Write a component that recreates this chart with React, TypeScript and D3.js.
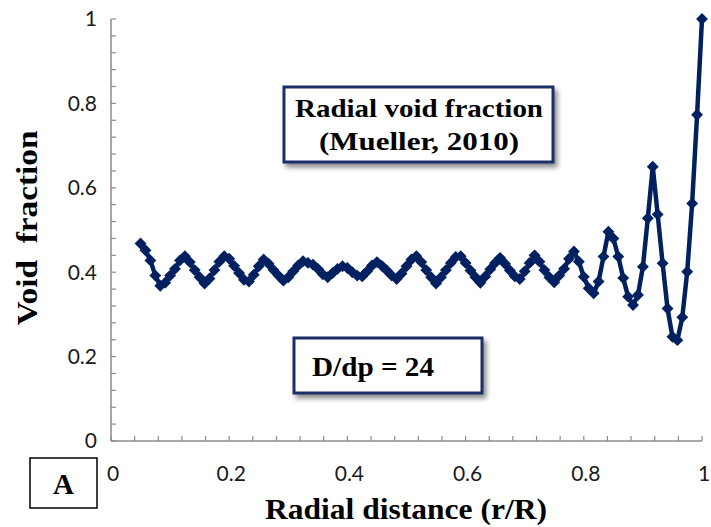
import React from "react";
import * as d3 from "d3";

const rIndex: number[] = d3.range(6, 121);
const voidFraction: number[] = [
  0.468, 0.452, 0.428, 0.392, 0.368, 0.375, 0.392, 0.408, 0.428, 0.438,
  0.424, 0.405, 0.388, 0.373, 0.385, 0.405, 0.425, 0.438, 0.432, 0.415,
  0.398, 0.382, 0.378, 0.394, 0.414, 0.430, 0.420, 0.405, 0.392, 0.380,
  0.388, 0.402, 0.416, 0.426, 0.422, 0.418, 0.408, 0.395, 0.388, 0.398,
  0.408, 0.414, 0.410, 0.400, 0.392, 0.390, 0.402, 0.416, 0.424, 0.415,
  0.404, 0.392, 0.384, 0.397, 0.414, 0.430, 0.438, 0.424, 0.405, 0.388,
  0.373, 0.388, 0.405, 0.422, 0.436, 0.438, 0.422, 0.404, 0.388, 0.375,
  0.390, 0.407, 0.422, 0.434, 0.420, 0.404, 0.390, 0.384, 0.402, 0.422,
  0.440, 0.425, 0.405, 0.388, 0.376, 0.392, 0.408, 0.432, 0.449, 0.425,
  0.389, 0.362, 0.350, 0.378, 0.437, 0.496, 0.480, 0.437, 0.386, 0.342,
  0.322, 0.346, 0.413, 0.528, 0.650, 0.537, 0.421, 0.314, 0.247, 0.239,
  0.293, 0.401, 0.563, 0.773, 1.0,
];
const radialDistance: number[] = rIndex.map((i) => i / 120);
const tickValues: number[] = [0, 0.2, 0.4, 0.6, 0.8, 1];
const minorTicks: number[] = d3.range(0, 26).map((i) => i * 0.04);

const NAVY = "#002060";
const AXIS = "#8c8c8c";

export default function App() {
  const x = d3.scaleLinear().domain([0, 1]).range([111, 702]);
  const y = d3.scaleLinear().domain([0, 1]).range([441, 19]);
  const data = radialDistance.map((r, i) => ({ r, v: voidFraction[i] }));
  const line = d3
    .line<{ r: number; v: number }>()
    .x((d) => x(d.r))
    .y((d) => y(d.v));
  const diamond = d3.symbol().type(d3.symbolDiamond2).size(90)() as string;
  const tickFont = "Lato, 'Open Sans', sans-serif";
  const serif = "'Liberation Serif', 'Times New Roman', serif";

  return (
    <svg
      width={711}
      height={527}
      style={{ position: "absolute", left: 0, top: 0, background: "#fff" }}
    >
      <defs>
        <filter id="shadow" x="-20%" y="-30%" width="140%" height="170%">
          <feDropShadow dx="3" dy="4" stdDeviation="2.5" floodColor="#000" floodOpacity="0.45" />
        </filter>
      </defs>
      <rect width={711} height={527} fill="#fff" />

      {/* axes */}
      <line x1={x(0)} x2={x(0)} y1={y(0)} y2={y(1)} stroke={AXIS} strokeWidth={1.5} />
      <line x1={x(0)} x2={x(1)} y1={y(0)} y2={y(0)} stroke={AXIS} strokeWidth={1.5} />
      {minorTicks.map((t, i) => (
        <line key={"yt" + i} x1={x(0)} x2={x(0) + 5} y1={y(t)} y2={y(t)} stroke={AXIS} strokeWidth={1.2} />
      ))}
      {minorTicks.map((t, i) => (
        <line key={"xt" + i} x1={x(t)} x2={x(t)} y1={y(0)} y2={y(0) - 5} stroke={AXIS} strokeWidth={1.2} />
      ))}
      {tickValues.map((t, i) => (
        <text
          key={"yl" + i}
          x={97}
          y={y(t)}
          dy="0.35em"
          textAnchor="end"
          fontFamily={tickFont}
          fontSize={21}
          fill="#1a1a1a"
        >
          {d3.format("")(t)}
        </text>
      ))}
      {tickValues.map((t, i) => (
        <text
          key={"xl" + i}
          x={x(t) + 2}
          y={481}
          textAnchor="middle"
          fontFamily={tickFont}
          fontSize={21}
          fill="#1a1a1a"
        >
          {d3.format("")(t)}
        </text>
      ))}

      {/* axis titles */}
      <text
        transform="translate(37,228) rotate(-90)"
        textAnchor="middle"
        fontFamily={serif}
        fontWeight="bold"
        fontSize={30}
        textLength={195}
        lengthAdjust="spacingAndGlyphs"
        fill="#000"
        style={{ whiteSpace: "pre" }}
      >
        Void  fraction
      </text>
      <text
        x={406}
        y={519}
        textAnchor="middle"
        fontFamily={serif}
        fontWeight="bold"
        fontSize={29}
        textLength={282}
        lengthAdjust="spacingAndGlyphs"
        fill="#000"
      >
        Radial distance (r/R)
      </text>

      {/* box A */}
      <rect x={30} y={458} width={67} height={50} fill="#fff" stroke="#000" strokeWidth={1.5} />
      <text x={63.5} y={494} textAnchor="middle" fontFamily={serif} fontWeight="bold" fontSize={29} fill="#000">
        A
      </text>

      {/* data */}
      <path d={line(data) as string} fill="none" stroke={NAVY} strokeWidth={4.5} strokeLinejoin="round" />
      {data.map((d, i) => (
        <path key={"m" + i} d={diamond} transform={`translate(${x(d.r)},${y(d.v)})`} fill={NAVY} />
      ))}

      {/* annotation boxes */}
      <rect x={284} y={87} width={269} height={75} fill="#fff" stroke="#1c2f66" strokeWidth={3} filter="url(#shadow)" />
      <text x={419} y={117} textAnchor="middle" fontFamily={serif} fontWeight="bold" fontSize={26} textLength={248} lengthAdjust="spacingAndGlyphs" fill="#000">
        Radial void fraction
      </text>
      <text x={419} y={150} textAnchor="middle" fontFamily={serif} fontWeight="bold" fontSize={26} textLength={200} lengthAdjust="spacingAndGlyphs" fill="#000">
        (Mueller, 2010)
      </text>

      <rect x={294} y={338} width={188} height={55} fill="#fff" stroke="#1c2f66" strokeWidth={3} filter="url(#shadow)" />
      <text x={373} y={376} textAnchor="middle" fontFamily={serif} fontWeight="bold" fontSize={28} textLength={122} lengthAdjust="spacingAndGlyphs" fill="#000">
        D/dp = 24
      </text>
    </svg>
  );
}
